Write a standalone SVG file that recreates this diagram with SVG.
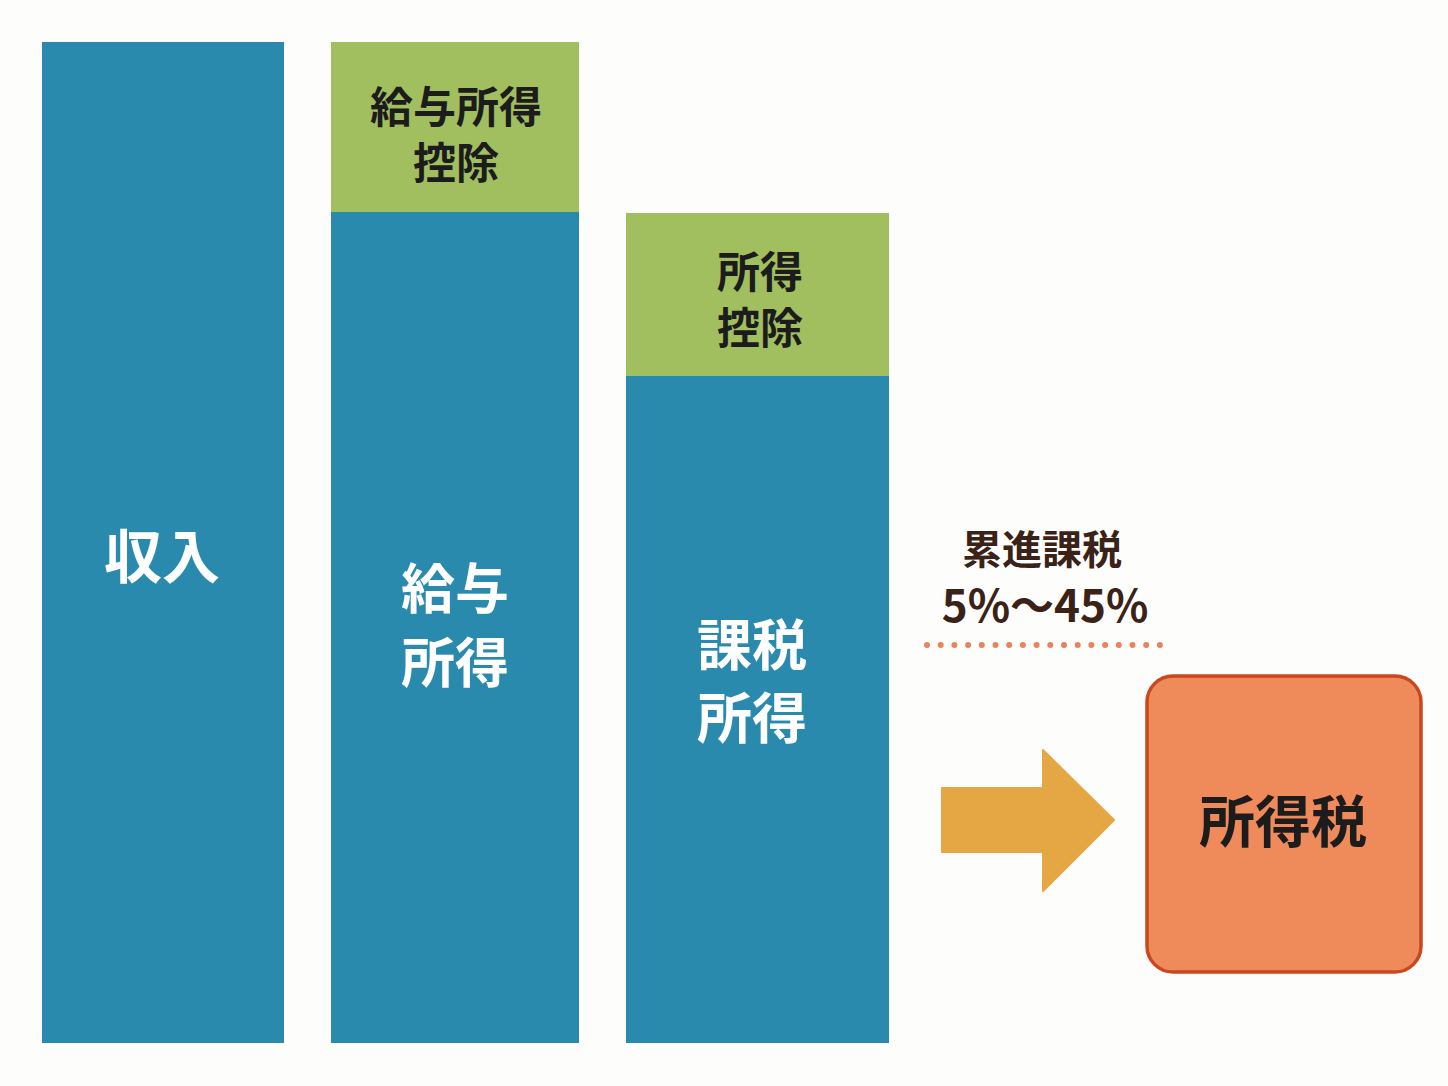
<svg xmlns="http://www.w3.org/2000/svg" width="1448" height="1086" viewBox="0 0 1448 1086">
<style>
.blue{fill:#2A8AAE}
.green{fill:#A1BF5F}
.t{font-family:"Noto Sans CJK JP","Noto Sans",sans-serif;font-weight:700;text-anchor:middle;dominant-baseline:central}
.w{fill:#ffffff}
.k{fill:#1c1c1c}
.b{fill:#3b2217}
</style>
<rect width="1448" height="1086" fill="#fdfdfc"/>
<g id="income">
<rect class="blue" x="42" y="42" width="242" height="1001"/>
<text class="t w" x="162" y="553" font-size="58">収入</text>
</g>
<g id="salary-deduction">
<rect class="green" x="331" y="42" width="248" height="170"/>
<text class="t k" x="456" y="104" font-size="43">給与所得</text>
<text class="t k" x="456" y="160" font-size="43">控除</text>
</g>
<g id="salary-income">
<rect class="blue" x="331" y="212" width="248" height="831"/>
<text class="t w" x="455" y="585" font-size="54">給与</text>
<text class="t w" x="455" y="659" font-size="54">所得</text>
</g>
<g id="income-deduction">
<rect class="green" x="626" y="213" width="263" height="163"/>
<text class="t k" x="760" y="269" font-size="43">所得</text>
<text class="t k" x="760" y="325" font-size="43">控除</text>
</g>
<g id="taxable-income">
<rect class="blue" x="626" y="376" width="263" height="667"/>
<text class="t w" x="752" y="641" font-size="55">課税</text>
<text class="t w" x="752" y="714" font-size="55">所得</text>
</g>
<g id="progressive">
<text class="t b" x="1042" y="547" font-size="40">累進課税</text>
<text class="t b" x="1045" y="603" font-size="44">5%〜45%</text>
<line x1="927" y1="645" x2="1160" y2="645" stroke="#E8845A" stroke-width="6" stroke-linecap="round" stroke-dasharray="0 13.7"/>
</g>
<g id="connectors">
<path d="M942,788 H1043 V750 L1114,820 L1043,891 V852 H942 Z" fill="#E5A744" stroke="#E5A744" stroke-width="2" stroke-linejoin="round"/>
</g>
<g id="income-tax">
<rect x="1147" y="676" width="274" height="296" rx="26" fill="#EF8A5B" stroke="#C9481F" stroke-width="3.5"/>
<text class="t k" x="1283" y="817" font-size="56">所得税</text>
</g>
</svg>
